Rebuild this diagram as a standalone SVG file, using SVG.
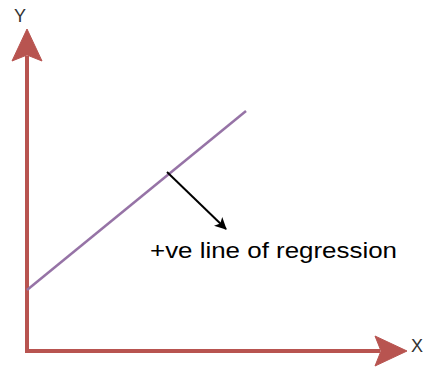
<svg xmlns="http://www.w3.org/2000/svg" width="425" height="369" viewBox="0 0 425 369">
<style>
.axis{stroke:#b85450;stroke-width:4;fill:none}
.lbl{font-family:"Liberation Sans",Arial,sans-serif;font-size:18px;fill:#333}
</style>
<defs>
<marker id="ah" markerWidth="12" markerHeight="12" refX="11" refY="6" orient="auto" markerUnits="userSpaceOnUse" viewBox="0 0 12 12">
<path d="M0,0 L12,6 L0,12 L3,6 Z" fill="#000"/>
</marker>
</defs>
<rect width="425" height="369" fill="#fff"/>
<g id="connectors">
<g id="y-axis">
<line class="axis" x1="27" y1="352" x2="27" y2="56"/>
<path d="M27,29 L42,61 L27,55 L12,61 Z" fill="#b85450" stroke="#b85450" stroke-width="1"/>
</g>
<g id="x-axis">
<line class="axis" x1="25" y1="351" x2="380" y2="351"/>
<path d="M407,351 L375,366 L381,351 L375,336 Z" fill="#b85450" stroke="#b85450" stroke-width="1"/>
</g>
<line id="regression-line" x1="27" y1="290" x2="246" y2="111" stroke="#9673a6" stroke-width="2.5"/>
<line id="pointer" x1="167" y1="172" x2="226" y2="229" stroke="#000" stroke-width="2" marker-end="url(#ah)"/>
</g>
<g id="label-y"><text class="lbl" x="20" y="22" text-anchor="middle">Y</text></g>
<g id="label-x"><text class="lbl" x="417" y="352" text-anchor="middle">X</text></g>
<g id="label-regression"><text x="150" y="258" font-family="'Liberation Sans',Arial,sans-serif" font-size="22" textLength="247" lengthAdjust="spacingAndGlyphs" fill="#000">+ve line of regression</text></g>
</svg>
